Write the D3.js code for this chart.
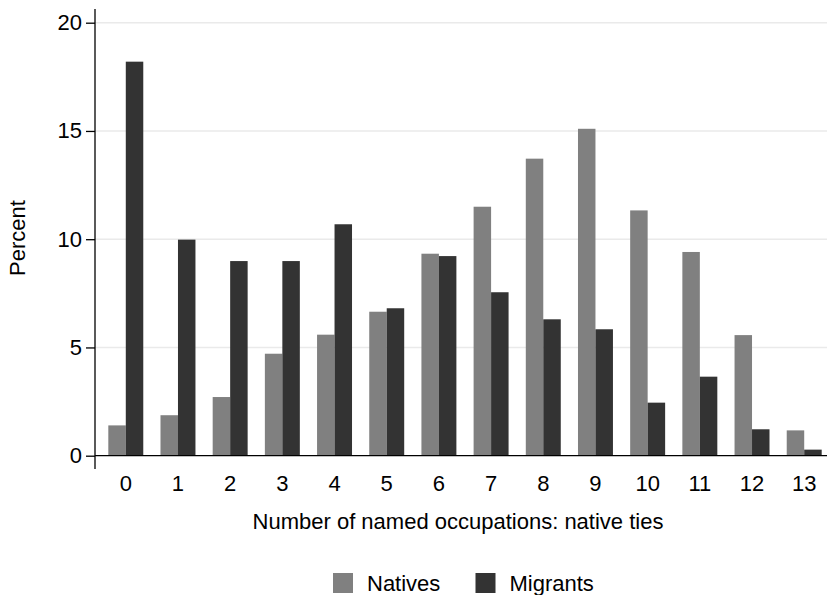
<!DOCTYPE html>
<html>
<head>
<meta charset="utf-8">
<script src="https://cdn.jsdelivr.net/npm/d3@7"></script>
<style>
  body { margin: 0; background: #fff; }
  svg { font-family: "Liberation Sans", Arial, sans-serif; }
</style>
</head>
<body>
<svg id="chart" width="827" height="595"></svg>
<script>
// data
const categories = ["0", "1", "2", "3", "4", "5", "6", "7", "8", "9", "10", "11", "12", "13"];
const natives = [1.40, 1.87, 2.71, 4.71, 5.59, 6.65, 9.33, 11.50, 13.72, 15.10, 11.33, 9.41, 5.57, 1.17];
const migrants = [18.20, 9.98, 8.99, 8.99, 10.69, 6.81, 9.22, 7.55, 6.30, 5.84, 2.45, 3.65, 1.22, 0.28];
const seriesNames = ["Natives", "Migrants"];
const yTicks = [0, 5, 10, 15, 20];

const colors = { Natives: "#808080", Migrants: "#333333" };
const fs = 22;

const svg = d3.select("#chart");
const m = { left: 95, right: 835, top: 22.7, bottom: 455.7 };

const x = d3.scaleBand().domain(categories).range([m.left, m.right])
  .paddingInner(0.33).paddingOuter(0.255);
const xs = d3.scaleBand().domain(seriesNames).range([0, x.bandwidth()]);
const y = d3.scaleLinear().domain([0, 20]).range([m.bottom, m.top]);

// gridlines
svg.append("g").selectAll("line")
  .data(yTicks.filter(d => d > 0))
  .enter().append("line")
  .attr("x1", m.left).attr("x2", 827)
  .attr("y1", d => y(d)).attr("y2", d => y(d))
  .attr("stroke", "#eaeaea").attr("stroke-width", 1.5);

// bars
const rows = categories.map((c, i) => ({ c, Natives: natives[i], Migrants: migrants[i] }));
const groups = svg.append("g").selectAll("g")
  .data(rows).enter().append("g")
  .attr("transform", d => `translate(${x(d.c)},0)`);

groups.selectAll("rect")
  .data(d => seriesNames.map(k => ({ k, v: d[k] })))
  .enter().append("rect")
  .attr("x", d => xs(d.k))
  .attr("width", xs.bandwidth())
  .attr("y", d => y(d.v))
  .attr("height", d => y(0) - y(d.v))
  .attr("fill", d => colors[d.k]);

// baseline
svg.append("line")
  .attr("x1", m.left).attr("x2", 827)
  .attr("y1", y(0)).attr("y2", y(0))
  .attr("stroke", "#000").attr("stroke-width", 1.3);

// y axis
const yAxis = svg.append("g")
  .attr("transform", `translate(${m.left},0)`)
  .call(d3.axisLeft(y).tickValues(yTicks).tickSize(9).tickPadding(4));
yAxis.select(".domain").remove();
yAxis.selectAll("line").attr("stroke", "#000").attr("stroke-width", 1.3);
yAxis.selectAll("text").attr("font-size", fs).attr("fill", "#000");
yAxis.append("line")
  .attr("x1", 0).attr("x2", 0).attr("y1", 9).attr("y2", 469)
  .attr("stroke", "#000").attr("stroke-width", 1.3);

// x axis labels
const xAxis = svg.append("g")
  .attr("transform", `translate(0,${y(0)})`)
  .call(d3.axisBottom(x).tickSize(0).tickPadding(20));
xAxis.select(".domain").remove();
xAxis.selectAll("text").attr("font-size", fs).attr("fill", "#000");

// axis titles
svg.append("text")
  .attr("x", 458).attr("y", 529)
  .attr("text-anchor", "middle")
  .attr("font-size", fs)
  .text("Number of named occupations: native ties");

svg.append("text")
  .attr("transform", "translate(25,238) rotate(-90)")
  .attr("text-anchor", "middle")
  .attr("font-size", fs)
  .text("Percent");

// legend
const legendX = [333, 475.5];
const legend = svg.append("g").selectAll("g")
  .data(seriesNames).enter().append("g")
  .attr("transform", (d, i) => `translate(${legendX[i]},573)`);
legend.append("rect")
  .attr("width", 20).attr("height", 20)
  .attr("fill", d => colors[d]);
legend.append("text")
  .attr("x", 34).attr("y", 18)
  .attr("font-size", fs)
  .text(d => d);
</script>
</body>
</html>
